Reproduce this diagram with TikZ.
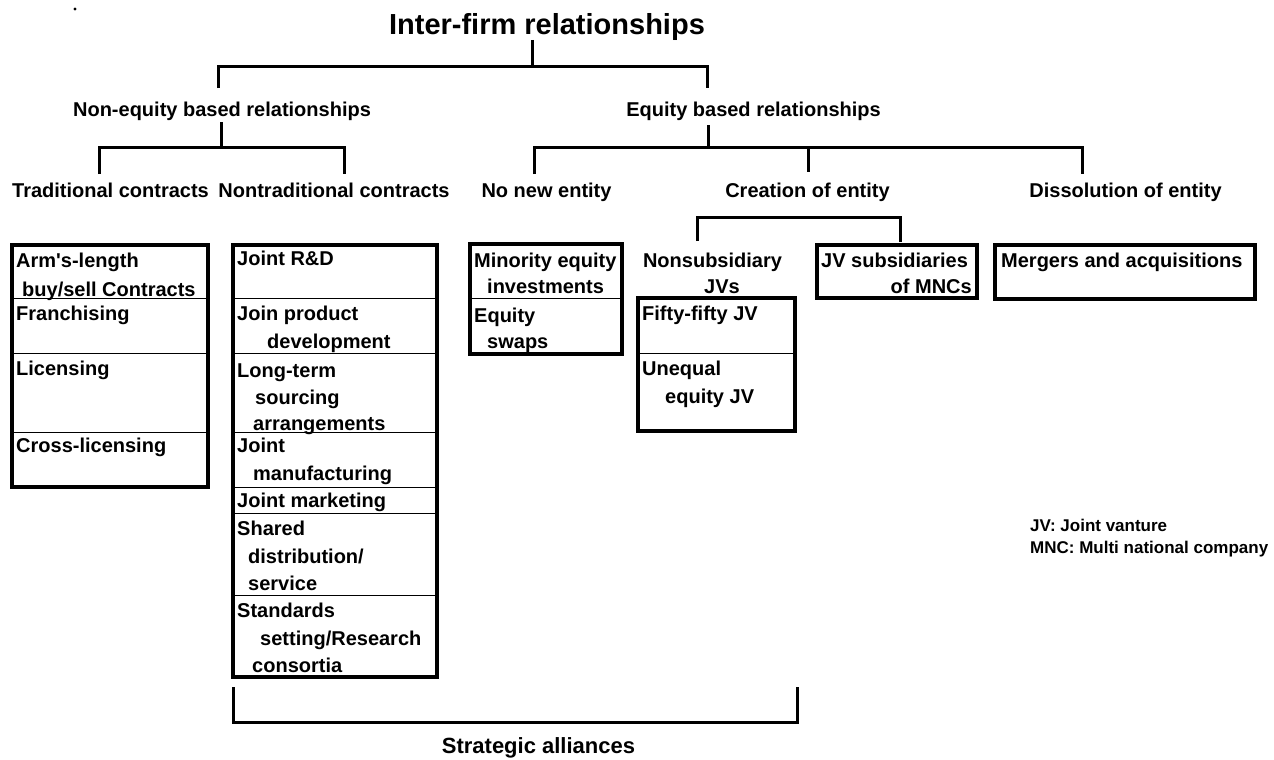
\documentclass[tikz,border=0pt]{standalone}
\usepackage{fontspec}
\setmainfont{Liberation Sans}[Ligatures=TeXOff]
\begin{document}
\begin{tikzpicture}[x=1pt,y=-1pt,
  lbl/.style={font=\fontsize{20}{24}\selectfont\bfseries, inner sep=0pt, anchor=base},
  cell/.style={lbl, anchor=base west},
  celr/.style={lbl, anchor=base east},
  note/.style={font=\fontsize{17}{20}\selectfont\bfseries, inner sep=0pt, anchor=base west},
  brk/.style={line width=3pt, line join=miter},
  boxframe/.style={line width=3.5pt},
  divline/.style={line width=1pt}]
\useasboundingbox (0,0) rectangle (1274,760);

% dot
\fill (75,9) circle (1.6pt);

% title and labels
\node[lbl, font=\fontsize{29}{34}\selectfont\bfseries] (title) at (547,35) {Inter-firm relationships};
\node[lbl] (noneq) at (222,116) {Non-equity based relationships};
\node[lbl] (eq) at (753.5,116) {Equity based relationships};
\node[lbl] (trad) at (110.5,197) {Traditional contracts};
\node[lbl] (nontrad) at (334,197) {Nontraditional contracts};
\node[lbl] (nonew) at (546.5,197) {No new entity};
\node[lbl] (creat) at (807.5,197) {Creation of entity};
\node[lbl] (diss) at (1125.5,197) {Dissolution of entity};

% brackets
\draw[brk] (532,40) -- (532,67);
\draw[brk] (218,88) -- (218,67) -- (707,67) -- (707,88);
\draw[brk] (221,122) -- (221,147);
\draw[brk] (99,174) -- (99,147) -- (344,147) -- (344,174);
\draw[brk] (708,125) -- (708,147);
\draw[brk] (534,174) -- (534,147) -- (1082,147) -- (1082,174);
\draw[brk] (808,147) -- (808,172);
\draw[brk] (697,241) -- (697,217) -- (900,217) -- (900,242);
\draw[brk] (233,687) -- (233,722) -- (797,722) -- (797,687);
\node[lbl, font=\fontsize{22}{26}\selectfont\bfseries] (strat) at (538.5,753) {Strategic alliances};

% Left box: traditional contracts
\draw[divline] (12,298) -- (208,298);
\draw[divline] (12,353) -- (208,353);
\draw[divline] (12,432) -- (208,432);
\draw[boxframe] (12,245) rectangle (208,487);
\node[cell] (t1a) at (16,267) {Arm's-length};
\node[cell] (t1b) at (22,296) {buy/sell Contracts};
\node[cell] (t2) at (16,320) {Franchising};
\node[cell] (t3) at (16,375) {Licensing};
\node[cell] (t4) at (16,452) {Cross-licensing};

% Middle box: nontraditional contracts
\foreach \yy in {298,353,432,487,513,595} \draw[divline] (233,\yy) -- (437,\yy);
\draw[boxframe] (233,245) rectangle (437,677);
\node[cell] (n1) at (237,265) {Joint R\&D};
\node[cell] (n2a) at (237,320) {Join product};
\node[cell] (n2b) at (267,348) {development};
\node[cell] (n3a) at (237,377) {Long-term};
\node[cell] (n3b) at (255,404) {sourcing};
\node[cell] (n3c) at (253,430) {arrangements};
\node[cell] (n4a) at (237,452) {Joint};
\node[cell] (n4b) at (253,480) {manufacturing};
\node[cell] (n5) at (237,507) {Joint marketing};
\node[cell] (n6a) at (237,535) {Shared};
\node[cell] (n6b) at (248,563) {distribution/};
\node[cell] (n6c) at (248,590) {service};
\node[cell] (n7a) at (237,617) {Standards};
\node[cell] (n7b) at (260,645) {setting/Research};
\node[cell] (n7c) at (252,672) {consortia};

% Minority box
\draw[divline] (470,298) -- (622,298);
\draw[boxframe] (470,244) rectangle (622,354);
\node[cell] (m1a) at (474,267) {Minority equity};
\node[cell] (m1b) at (487,293) {investments};
\node[cell] (m2a) at (474,322) {Equity};
\node[cell] (m2b) at (487,348) {swaps};

% Nonsubsidiary JVs
\node[lbl] (nsub) at (712.5,267) {Nonsubsidiary};
\node[lbl] (nsubb) at (722,293) {JVs};
\draw[divline] (638,353) -- (795,353);
\draw[boxframe] (638,298) rectangle (795,431);
\node[cell] (f1) at (642,320) {Fifty-fifty JV};
\node[cell] (f2a) at (642,375) {Unequal};
\node[cell] (f2b) at (665,403) {equity JV};

% JV subsidiaries
\draw[boxframe] (817,245) rectangle (977,298);
\node[cell] (js1) at (821,267) {JV subsidiaries};
\node[celr] (js2) at (972,293) {of MNCs};

% Mergers
\draw[boxframe] (995,245) rectangle (1255,299);
\node[cell] (ma) at (1001,267) {Mergers and acquisitions};

% notes
\node[note] (jvn) at (1030,531) {JV: Joint vanture};
\node[note] (mncn) at (1030,553) {MNC: Multi national company};
\end{tikzpicture}
\end{document}
